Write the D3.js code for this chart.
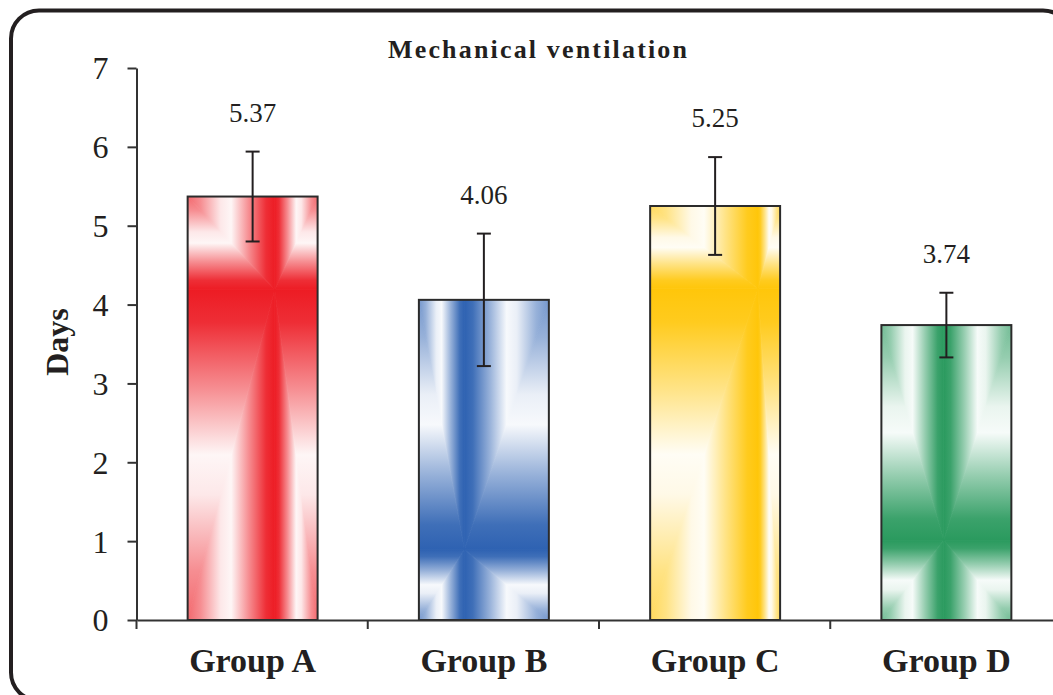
<!DOCTYPE html>
<html><head><meta charset="utf-8">
<script src="https://cdn.jsdelivr.net/npm/d3@7"></script>
<style>html,body{margin:0;padding:0;background:#fff;} svg{display:block;}</style>
</head><body>
<svg id="chart" width="1053" height="695"></svg>
<script>
// ---- data ----
const categories = ["Group A", "Group B", "Group C", "Group D"];
const means = [5.37, 4.06, 5.25, 3.74];
const sds = [0.57, 0.84, 0.62, 0.41];
const yTicks = [0, 1, 2, 3, 4, 5, 6, 7];
const title = "Mechanical ventilation";
const yTitle = "Days";
// ---- style ----
const barColors = ["#ed1c24", "#2e62b2", "#ffc60a", "#2a9a5e"];
const gradFocus = [[0.67, 0.22], [0.35, 0.78], [0.83, 0.20], [0.48, 0.73]];
const ink = "#231f20";
const serif = "'Liberation Serif','Times New Roman',serif";

const svg = d3.select("#chart");
const defs = svg.append("defs");

// frame
svg.append("rect").attr("x", 11).attr("y", 10.5).attr("width", 1060).attr("height", 690)
  .attr("rx", 28).attr("ry", 28).attr("fill", "#fff").attr("stroke", ink).attr("stroke-width", 4);

const x = d3.scaleBand().domain(categories).range([137, 1062]).padding(0);
const y = d3.scaleLinear().domain([0, 7]).range([620, 68]);
const barW = x.bandwidth() * 0.562;

const data = categories.map((c, i) => ({c, i, m: means[i], sd: sds[i], color: barColors[i], f: gradFocus[i]}));

function stops(grad, color) {
  const mix = t => d3.interpolateRgb("#ffffff", color)(t);
  [[0, 1], [0.1, 0.92], [0.3, 0.5], [0.5, 0.04], [0.62, 0.1], [0.85, 0.5], [1, 0.66]]
    .forEach(([o, t]) => grad.append("stop").attr("offset", o).attr("stop-color", mix(t)));
}

const bars = svg.append("g");
data.forEach(d => {
  const x0 = x(d.c) + (x.bandwidth() - barW) / 2, x1 = x0 + barW;
  const y0 = y(d.m), y1 = y(0);
  const cx = x0 + d.f[0] * barW, cy = y0 + d.f[1] * (y1 - y0);
  const mk = (id, a, b, c2, e) => {
    const g = defs.append("linearGradient").attr("id", id).attr("gradientUnits", "userSpaceOnUse")
      .attr("x1", a).attr("y1", b).attr("x2", c2).attr("y2", e);
    stops(g, d.color);
    return `url(#${id})`;
  };
  const L = mk(`g${d.i}L`, cx, 0, x0, 0), R = mk(`g${d.i}R`, cx, 0, x1, 0);
  const U = mk(`g${d.i}U`, 0, cy, 0, y0), D = mk(`g${d.i}D`, 0, cy, 0, y1);
  defs.append("clipPath").attr("id", `clip${d.i}`).append("rect")
    .attr("x", x0).attr("y", y0).attr("width", barW).attr("height", y1 - y0);
  const C = [cx, cy];
  const tris = [
    [[C, [cx, y0], [x0, y0]], L], [[C, [x0, y0], [x0, cy]], U],
    [[C, [cx, y0], [x1, y0]], R], [[C, [x1, y0], [x1, cy]], U],
    [[C, [cx, y1], [x0, y1]], L], [[C, [x0, y1], [x0, cy]], D],
    [[C, [cx, y1], [x1, y1]], R], [[C, [x1, y1], [x1, cy]], D]
  ];
  const g = bars.append("g").attr("clip-path", `url(#clip${d.i})`);
  g.selectAll("polygon").data(tris).join("polygon")
    .attr("points", t => t[0].map(p => p.join(",")).join(" "))
    .attr("fill", t => t[1]).attr("stroke", t => t[1]).attr("stroke-width", 0.8);
  bars.append("rect").attr("x", x0).attr("y", y0).attr("width", barW).attr("height", y1 - y0)
    .attr("fill", "none").attr("stroke", "#2b2b2b").attr("stroke-width", 2);
});

// error bars
const eb = svg.append("g").attr("stroke", ink).attr("stroke-width", 2);
data.forEach(d => {
  const cxm = x(d.c) + x.bandwidth() / 2;
  eb.append("line").attr("x1", cxm).attr("x2", cxm).attr("y1", y(d.m - d.sd)).attr("y2", y(d.m + d.sd));
  [d.m - d.sd, d.m + d.sd].forEach(v => eb.append("line")
    .attr("x1", cxm - 7).attr("x2", cxm + 7).attr("y1", y(v)).attr("y2", y(v)));
});

// value labels
svg.append("g").selectAll("text").data(data).join("text")
  .attr("x", d => x(d.c) + x.bandwidth() / 2).attr("y", d => y(d.m + d.sd) - 30)
  .attr("text-anchor", "middle").attr("font-family", serif).attr("font-size", 27).attr("fill", ink)
  .text(d => d.m.toFixed(2));

// y axis
const ya = svg.append("g").attr("transform", "translate(136.5,0)")
  .call(d3.axisLeft(y).tickValues(yTicks).tickFormat(d3.format("d")).tickSize(9).tickSizeOuter(0).tickPadding(19));
ya.select(".domain").attr("stroke", "#333").attr("stroke-width", 2);
ya.selectAll(".tick line").attr("stroke", "#333").attr("stroke-width", 2);
ya.selectAll(".tick text").attr("font-family", serif).attr("font-size", 32).attr("fill", ink).attr("dy", "0.34em");

// x axis
const xa = svg.append("g").attr("transform", "translate(0,620)")
  .call(d3.axisBottom(x).tickSize(0).tickSizeOuter(0).tickPadding(45));
xa.select(".domain").attr("stroke", "#333").attr("stroke-width", 2);
xa.selectAll(".tick text").attr("font-family", serif).attr("font-size", 34).attr("font-weight", "bold")
  .attr("fill", ink).attr("dy", "0.2em");
xa.selectAll("line.bound").data(categories).join("line").attr("class", "bound")
  .attr("x1", c => x(c) - 0.5).attr("x2", c => x(c) - 0.5).attr("y1", 0).attr("y2", 9)
  .attr("stroke", "#333").attr("stroke-width", 2);

// titles
svg.append("text").attr("x", 537.5).attr("y", 58).attr("text-anchor", "middle")
  .attr("font-family", serif).attr("font-weight", "bold").attr("font-size", 26).attr("fill", ink)
  .attr("textLength", 299).attr("lengthAdjust", "spacing").text(title);
svg.append("text").attr("transform", "translate(68,342) rotate(-90)").attr("text-anchor", "middle")
  .attr("font-family", serif).attr("font-weight", "bold").attr("font-size", 32).attr("fill", ink)
  .text(yTitle);
</script>
</body></html>
